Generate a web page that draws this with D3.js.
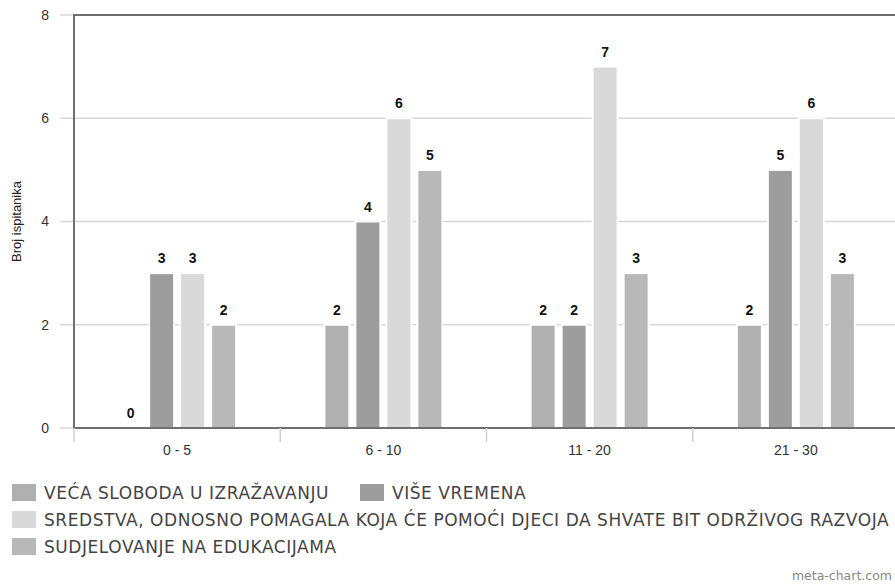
<!DOCTYPE html>
<html><head><meta charset="utf-8">
<script src="https://cdn.jsdelivr.net/npm/d3@7"></script>
<style>body{margin:0;background:#fff;overflow:hidden}svg{display:block}</style>
</head><body>
<svg id="c" width="895" height="585"></svg>
<script>
const categories = ["0 - 5", "6 - 10", "11 - 20", "21 - 30"];
const seriesNames = [
  "VEĆA SLOBODA U IZRAŽAVANJU",
  "VIŠE VREMENA",
  "SREDSTVA, ODNOSNO POMAGALA KOJA ĆE POMOĆI DJECI DA SHVATE BIT ODRŽIVOG RAZVOJA",
  "SUDJELOVANJE NA EDUKACIJAMA"
];
const sloboda = [0, 2, 2, 2];
const vremena = [3, 4, 2, 5];
const sredstva = [3, 6, 7, 6];
const edukacije = [2, 5, 3, 3];
const seriesValues = [sloboda, vremena, sredstva, edukacije];
const colors = ["#b0b0b0", "#9d9d9d", "#d9d9d9", "#b8b8b8"];
const yTicks = [0, 2, 4, 6, 8];

(function () {
const svg = d3.select("#c");
const pL = 74, pR = 899, pT = 15, pB = 428;

const x = d3.scaleBand().domain(categories).range([pL, pR]);
const y = d3.scaleLinear().domain([0, 8]).range([pB, pT]);
const barW = 25, step = 31;

// gridlines
svg.append("g").selectAll("line").data(yTicks).join("line")
  .attr("x1", pL - 14).attr("x2", pR).attr("y1", d => y(d)).attr("y2", d => y(d))
  .attr("stroke", "#d8d8d8").attr("stroke-width", 1.5);

// y tick labels
svg.append("g").selectAll("text").data(yTicks).join("text")
  .attr("x", 49).attr("y", d => y(d)).attr("dy", "0.35em").attr("text-anchor", "end")
  .attr("font-family", "Liberation Sans, Arial, sans-serif").attr("font-size", 14).attr("fill", "#333")
  .text(d => d);

// y title
svg.append("text").attr("transform", `translate(21,${(pT + pB) / 2}) rotate(-90)`)
  .attr("text-anchor", "middle").attr("font-family", "Liberation Sans, Arial, sans-serif")
  .attr("font-size", 13).attr("fill", "#222").text("Broj ispitanika");

// bars
seriesValues.forEach((vals, si) => {
  svg.append("g").selectAll("rect").data(categories).join("rect")
    .attr("x", (c) => x(c) + x.bandwidth() / 2 - 2 * step + si * step + (step - barW) / 2)
    .attr("y", (c, i) => y(vals[i]))
    .attr("width", barW)
    .attr("height", (c, i) => pB - y(vals[i]))
    .attr("fill", colors[si]).attr("stroke", "#fff").attr("stroke-width", 2);
  svg.append("g").selectAll("text").data(categories).join("text")
    .attr("x", (c) => x(c) + x.bandwidth() / 2 - 2 * step + si * step + step / 2)
    .attr("y", (c, i) => y(vals[i]) - 10)
    .attr("text-anchor", "middle").attr("font-family", "Liberation Sans, Arial, sans-serif")
    .attr("font-size", 14).attr("font-weight", "bold").attr("fill", "#111")
    .text((c, i) => vals[i]);
});

// frame
svg.append("line").attr("x1", pL).attr("x2", pL).attr("y1", pT).attr("y2", pB)
  .attr("stroke", "#6f6f6f").attr("stroke-width", 2);
svg.append("line").attr("x1", pL - 1).attr("x2", pR).attr("y1", pT).attr("y2", pT)
  .attr("stroke", "#6f6f6f").attr("stroke-width", 2);
svg.append("line").attr("x1", pL - 1).attr("x2", pR).attr("y1", pB).attr("y2", pB)
  .attr("stroke", "#6f6f6f").attr("stroke-width", 2);

// x ticks
const bounds = categories.map(c => x(c)).concat([pR]);
svg.append("g").selectAll("line").data(bounds).join("line")
  .attr("x1", d => d).attr("x2", d => d).attr("y1", pB).attr("y2", pB + 14)
  .attr("stroke", "#d0d0d0").attr("stroke-width", 1.5);
svg.append("g").selectAll("text").data(categories).join("text")
  .attr("x", c => x(c) + x.bandwidth() / 2).attr("y", 455)
  .attr("text-anchor", "middle").attr("font-family", "Liberation Sans, Arial, sans-serif")
  .attr("font-size", 14).attr("fill", "#333").text(c => c);

// legend
const legendPos = [[12, 492], [360, 492], [12, 519], [12, 546]];
seriesNames.forEach((n, i) => {
  const [lx, ly] = legendPos[i];
  svg.append("rect").attr("x", lx).attr("y", ly - 8).attr("width", 24).attr("height", 17)
    .attr("fill", colors[i]);
  svg.append("text").attr("x", lx + 32).attr("y", ly + 1).attr("dy", "0.35em")
    .attr("font-family", "DejaVu Sans, Verdana, sans-serif").attr("font-size", 17)
    .attr("letter-spacing", "0.55px")
    .attr("fill", "#444").text(n);
});

svg.append("text").attr("x", 892).attr("y", 580).attr("text-anchor", "end")
  .attr("font-family", "DejaVu Sans, sans-serif").attr("font-size", 12.5).attr("fill", "#888")
  .text("meta-chart.com");
})();
</script>
</body></html>
